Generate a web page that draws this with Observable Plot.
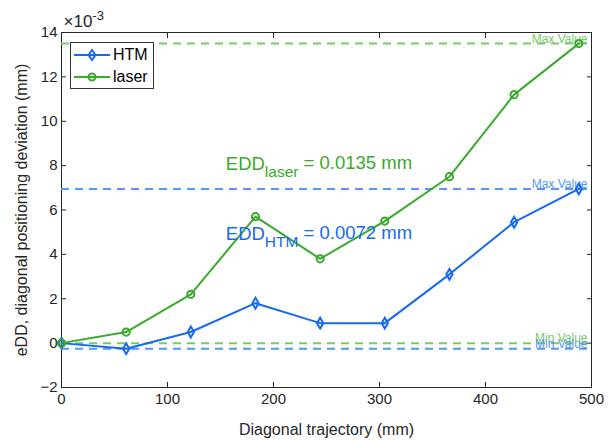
<!DOCTYPE html>
<html>
<head>
<meta charset="utf-8">
<script src="https://cdn.jsdelivr.net/npm/d3@7"></script>
<script src="https://cdn.jsdelivr.net/npm/@observablehq/plot@0.6"></script>
<style>
  body { margin: 0; background: #fff; }
  #wrap { position: relative; width: 616px; height: 441px; font-family: "Liberation Sans", Arial, sans-serif; }
  #legend { position: absolute; left: 70px; top: 42px; width: 82px; height: 45px; border: 1px solid #333; background: #fff; font-size: 16px; color: #000; }
  .row { position: absolute; left: 2px; height: 20px; display: flex; align-items: center; }
  .row span { margin-left: 2px; }
</style>
</head>
<body>
<div id="wrap"></div>
<script>
// Diagonal trajectory positions (mm)
const trajectory = [0, 61, 122, 183, 244, 305, 366, 427, 488];
// Deviation values in units of 1e-3 mm
const htm   = [0, -0.25, 0.5, 1.8, 0.9, 0.9, 3.1, 5.45, 6.95];
const laser = [0, 0.5, 2.2, 5.7, 3.8, 5.5, 7.5, 11.2, 13.5];
const seriesNames = ["HTM", "laser"];
const colors = {HTM: "#1569f2", laser: "#3aaa2c"};
const refColors = {HTM: "#5596fa", laser: "#79c968"};
const yTicks = [-2, 0, 2, 4, 6, 8, 10, 12, 14];
const xTicks = [0, 100, 200, 300, 400, 500];

const rows = [];
trajectory.forEach((t, i) => {
  rows.push({x: t, y: htm[i], s: "HTM"});
  rows.push({x: t, y: laser[i], s: "laser"});
});
const refs = [
  {s: "laser", kind: "Max Value", y: d3.max(laser)},
  {s: "HTM",   kind: "Max Value", y: d3.max(htm)},
  {s: "laser", kind: "Min Value", y: d3.min(laser)},
  {s: "HTM",   kind: "Min Value", y: d3.min(htm)}
];
const notes = [
  {s: "laser", x: 155, y: 8.05, main: "EDD", sub: "laser", rest: " = 0.0135 mm"},
  {s: "HTM",   x: 155, y: 4.9, main: "EDD", sub: "HTM", rest: " = 0.0072 mm"}
];

const plot = Plot.plot({
  width: 616, height: 441,
  marginLeft: 61, marginRight: 25, marginTop: 32, marginBottom: 54,
  style: {fontFamily: "Liberation Sans, Arial, sans-serif", fontSize: "15px", color: "#262626", background: "#fff"},
  x: {domain: [0, 500], ticks: xTicks},
  y: {domain: [-2, 14], ticks: yTicks},
  marks: [
    Plot.frame({stroke: "#262626", strokeWidth: 1}),
    Plot.axisX({ticks: xTicks, tickSize: -5, tickPadding: 11, label: null, fontSize: 15, color: "#262626"}),
    Plot.text(["Diagonal trajectory (mm)"], {frameAnchor: "bottom", dy: 47, fontSize: 16, fill: "#262626"}),
    Plot.axisX({ticks: xTicks, anchor: "top", tickSize: -5, tickFormat: () => "", label: null, color: "#262626"}),
    Plot.axisY({ticks: yTicks, tickSize: -5, tickPadding: 9, label: null, fontSize: 15, color: "#262626"}),
    Plot.text(["eDD, diagonal positioning deviation (mm)"], {frameAnchor: "left", textAnchor: "middle", rotate: -90, dx: -40, fontSize: 16, fill: "#262626"}),
    Plot.axisY({ticks: yTicks, anchor: "right", tickSize: -5, tickFormat: () => "", label: null, color: "#262626"}),
    Plot.ruleY(refs, {y: "y", stroke: d => refColors[d.s], strokeWidth: 2, strokeDasharray: "8,6"}),
    Plot.text(refs, {x: 500, y: "y", text: "kind", fill: d => refColors[d.s], textAnchor: "end", lineAnchor: "bottom", dx: -4, dy: -1, fontSize: 12}),
    Plot.line(rows, {x: "x", y: "y", z: "s", stroke: d => colors[d.s], strokeWidth: 2}),
    Plot.dot(rows.filter(d => d.s === "HTM"), {x: "x", y: "y", symbol: "diamond", r: 3.3, stroke: colors.HTM, strokeWidth: 2, fill: "none"}),
    Plot.dot(rows.filter(d => d.s === "laser"), {x: "x", y: "y", symbol: "circle", r: 3.6, stroke: colors.laser, strokeWidth: 2, fill: "none"}),
    Plot.text(notes, {x: "x", y: "y", text: d => d.main + "|" + d.sub + "|" + d.rest, fill: d => colors[d.s], textAnchor: "start", fontSize: 18.5, className: "note"}),
    Plot.text(["×10|-3"], {frameAnchor: "top-left", text: d => d, dy: -18, dx: 2, textAnchor: "start", fontSize: 17, className: "expo", fill: "#262626"})
  ]
});

// subscript / superscript formatting
d3.select(plot).selectAll("g.note text").each(function() {
  const [m, s, r] = this.textContent.split("|");
  const t = d3.select(this).text("");
  t.append("tspan").text(m);
  t.append("tspan").attr("dy", "0.45em").attr("font-size", "15.5px").text(s);
  t.append("tspan").attr("dy", "-0.45em").text(r);
});
d3.select(plot).selectAll("g.expo text").each(function() {
  const [m, s] = this.textContent.split("|");
  const t = d3.select(this).text("").style("font-size", "17px");
  t.append("tspan").text(m);
  t.append("tspan").attr("dy", "-0.5em").style("font-size", "13px").text(s);
});

const wrap = document.getElementById("wrap");
wrap.appendChild(plot);

// legend
const leg = document.createElement("div");
leg.id = "legend";
seriesNames.forEach((name, i) => {
  const row = document.createElement("div");
  row.className = "row";
  row.style.top = (2 + i * 22) + "px";
  const sym = name === "HTM"
    ? `<path d="M19,5 L22.5,10 L19,15 L15.5,10 Z" fill="none" stroke="${colors[name]}" stroke-width="2"/>`
    : `<circle cx="19" cy="10" r="3.5" fill="none" stroke="${colors[name]}" stroke-width="2"/>`;
  row.innerHTML = `<svg width="38" height="20"><line x1="1" x2="37" y1="10" y2="10" stroke="${colors[name]}" stroke-width="2"/>${sym}</svg><span>${name}</span>`;
  leg.appendChild(row);
});
wrap.appendChild(leg);
</script>
</body>
</html>
